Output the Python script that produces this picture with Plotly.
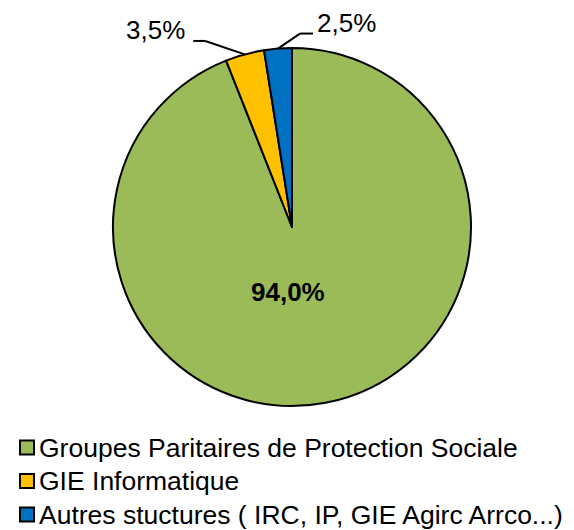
import math
import plotly.graph_objects as go

# ---- data ----
labels = ["Groupes Paritaires de Protection Sociale", "GIE Informatique",
          "Autres stuctures ( IRC, IP, GIE Agirc Arrco...)"]
values = [94.0, 3.5, 2.5]
colors = ["#9BBB59", "#FFC000", "#0070C0"]

W, H = 574, 530          # window size
OFF = 8                  # page body margin
FW, FH = W - OFF, H - OFF  # figure size
CX, CY, R = 292, 227, 179  # pie centre / radius in window pixels
FONT = "Liberation Sans, Arial, sans-serif"
FS = 26

def fmt(v):
    return f"{v:.1f}".replace(".", ",") + "%"

def px2paper(x, y):
    return (x - OFF) / FW, 1 - (y - OFF) / FH

dx0, dy1 = px2paper(CX - R, CY - R)
dx1, dy0 = px2paper(CX + R, CY + R)

fig = go.Figure(go.Pie(
    labels=labels, values=values, sort=False, direction="clockwise", rotation=0,
    marker=dict(colors=colors, line=dict(color="black", width=2)),
    textinfo="none",
    domain=dict(x=[dx0, dx1], y=[dy0, dy1]),
    hoverinfo="label+percent", showlegend=False,
))

total = sum(values)
cum = 0
mids = []
for v in values:
    mids.append((cum + v / 2) / total * 2 * math.pi)
    cum += v

shapes, annotations = [], []

# big slice label (inside)
bx, by = px2paper(CX - 4, CY + 65)
annotations.append(dict(x=bx, y=by, xref="paper", yref="paper", text=f"<b>{fmt(values[0])}</b>",
                        showarrow=False, xanchor="center", yanchor="middle",
                        font=dict(family=FONT, size=FS, color="black")))

# outside labels for small slices: (index, elbow offset, horizontal length, text anchor, gap)
outside = [(1, (-39.5, -13.4), -12, "right", -6), (2, (22, -15), 13, "left", 2)]
for i, (dx, dy), hl, anchor, gap in outside:
    a = mids[i]
    x0 = CX + R * math.sin(a)
    y0 = CY - R * math.cos(a)
    x1, y1 = x0 + dx, y0 + dy
    x2 = x1 + hl
    for (xa, ya), (xb, yb) in [((x0, y0), (x1, y1)), ((x1, y1), (x2, y1))]:
        pa, pb = px2paper(xa, ya), px2paper(xb, yb)
        shapes.append(dict(type="line", xref="paper", yref="paper",
                           x0=pa[0], y0=pa[1], x1=pb[0], y1=pb[1],
                           line=dict(color="black", width=2)))
    px_, py_ = px2paper(x2 + gap, y1 - 11)
    annotations.append(dict(x=px_, y=py_, xref="paper", yref="paper", text=fmt(values[i]),
                            showarrow=False, xanchor=anchor, yanchor="middle",
                            font=dict(family=FONT, size=FS, color="black")))

# legend (square swatch + label per category)
LEG_X, LEG_Y0, LEG_DY, SW = 20, 447.5, 33.5, 14
for k, (lab, col) in enumerate(zip(labels, colors)):
    yc = LEG_Y0 + k * LEG_DY
    p0 = px2paper(LEG_X, yc - SW / 2)
    p1 = px2paper(LEG_X + SW, yc + SW / 2)
    shapes.append(dict(type="rect", xref="paper", yref="paper",
                       x0=p0[0], y0=p0[1], x1=p1[0], y1=p1[1],
                       fillcolor=col, line=dict(color="black", width=2)))
    tx, ty = px2paper(LEG_X + SW + 3, yc)
    annotations.append(dict(x=tx, y=ty, xref="paper", yref="paper", text=lab,
                            showarrow=False, xanchor="left", yanchor="middle",
                            font=dict(family=FONT, size=26.5, color="black")))

fig.update_layout(
    width=FW, height=FH, margin=dict(l=0, r=0, t=0, b=0, autoexpand=False),
    paper_bgcolor="white", plot_bgcolor="white",
    shapes=shapes, annotations=annotations, showlegend=False,
)
fig.write_html("out.html")
